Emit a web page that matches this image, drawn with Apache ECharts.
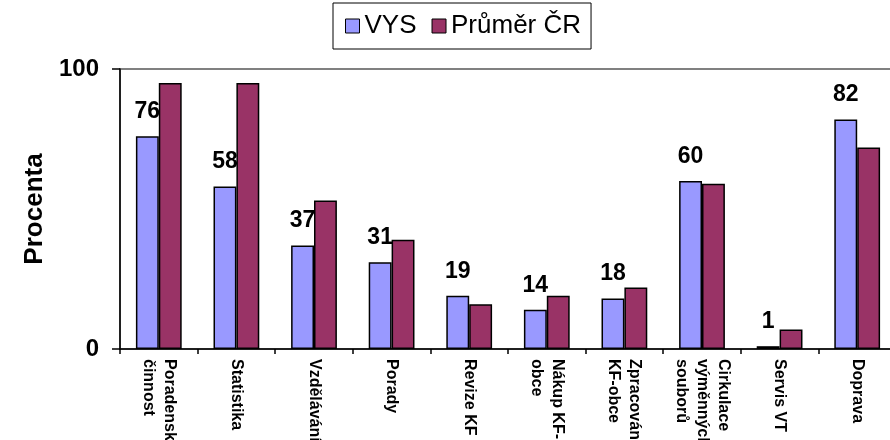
<!DOCTYPE html>
<html>
<head>
<meta charset="utf-8">
<script src="https://cdn.jsdelivr.net/npm/echarts@6/dist/echarts.min.js"></script>
<style>
html,body{margin:0;padding:0;background:#fff;}
#chart{width:890px;height:440px;}
</style>
</head>
<body>
<div id="chart"></div>
<script>
var categories = ["Poradenská\nčinnost", "Statistika", "Vzdělávání", "Porady", "Revize KF", "Nákup KF-\nobce", "Zpracování\nKF-obce", "Cirkulace\nvýměnných\nsouborů", "Servis VT", "Doprava"];
var vysValues = [76, 58, 37, 31, 19, 14, 18, 60, 1, 82];
var prumerValues = [95, 95, 53, 39, 16, 19, 22, 59, 7, 72];
var seriesNames = ["VYS", "Průměr ČR"];
var yTicks = [0, 100];

var font = "'Liberation Sans', Arial, sans-serif";
var chart = echarts.init(document.getElementById('chart'));
chart.setOption({
  animation: false,
  textStyle: {fontFamily: font},
  legend: {
    data: seriesNames,
    left: 333, top: 3,
    padding: [10, 10, 10, 12],
    borderColor: '#000', borderWidth: 1,
    itemWidth: 14, itemHeight: 14, itemGap: 15,
    icon: 'rect',
    itemStyle: {borderColor: '#000', borderWidth: 1},
    textStyle: {fontSize: 26, color: '#000', fontFamily: font, padding: [0, 0, 0, 0]}
  },
  grid: {left: 120, right: -6, top: 69, bottom: 91, outerBoundsMode: 'none', containLabel: false, show: true, borderColor: '#808080', borderWidth: 2, backgroundColor: 'transparent'},
  xAxis: {
    type: 'category',
    data: categories,
    axisLine: {lineStyle: {color: '#000', width: 1.5}},
    axisTick: {show: true, length: 5, lineStyle: {color: '#000', width: 1.5}},
    axisLabel: {rotate: -90, margin: 10, fontSize: 16, fontWeight: 'bold', color: '#000', lineHeight: 21, fontFamily: font, interval: 0, hideOverlap: false}
  },
  yAxis: {
    type: 'value',
    min: yTicks[0], max: yTicks[1], interval: 100,
    name: 'Procenta', nameLocation: 'middle', nameGap: 72, nameRotate: 90,
    nameTextStyle: {fontSize: 26, fontWeight: 'bold', color: '#000', fontFamily: font},
    axisLine: {show: true, lineStyle: {color: '#000', width: 1.5}},
    axisTick: {show: true, length: 8, lineStyle: {color: '#000', width: 1.5}},
    splitLine: {show: false},
    axisLabel: {margin: 21, fontSize: 24, fontWeight: 'bold', color: '#000', fontFamily: font}
  },
  series: [
    {
      name: seriesNames[0], type: 'bar', data: vysValues,
      barGap: '0%', barCategoryGap: '41%',
      itemStyle: {color: '#9999FF', borderColor: '#000', borderWidth: 1.5},
      label: {show: true, position: 'top', distance: 13, fontSize: 23, fontWeight: 'bold', color: '#000', fontFamily: font}
    },
    {
      name: seriesNames[1], type: 'bar', data: prumerValues,
      barGap: '0%', barCategoryGap: '41%',
      itemStyle: {color: '#993366', borderColor: '#000', borderWidth: 1.5}
    }
  ]
});
</script>
</body>
</html>
